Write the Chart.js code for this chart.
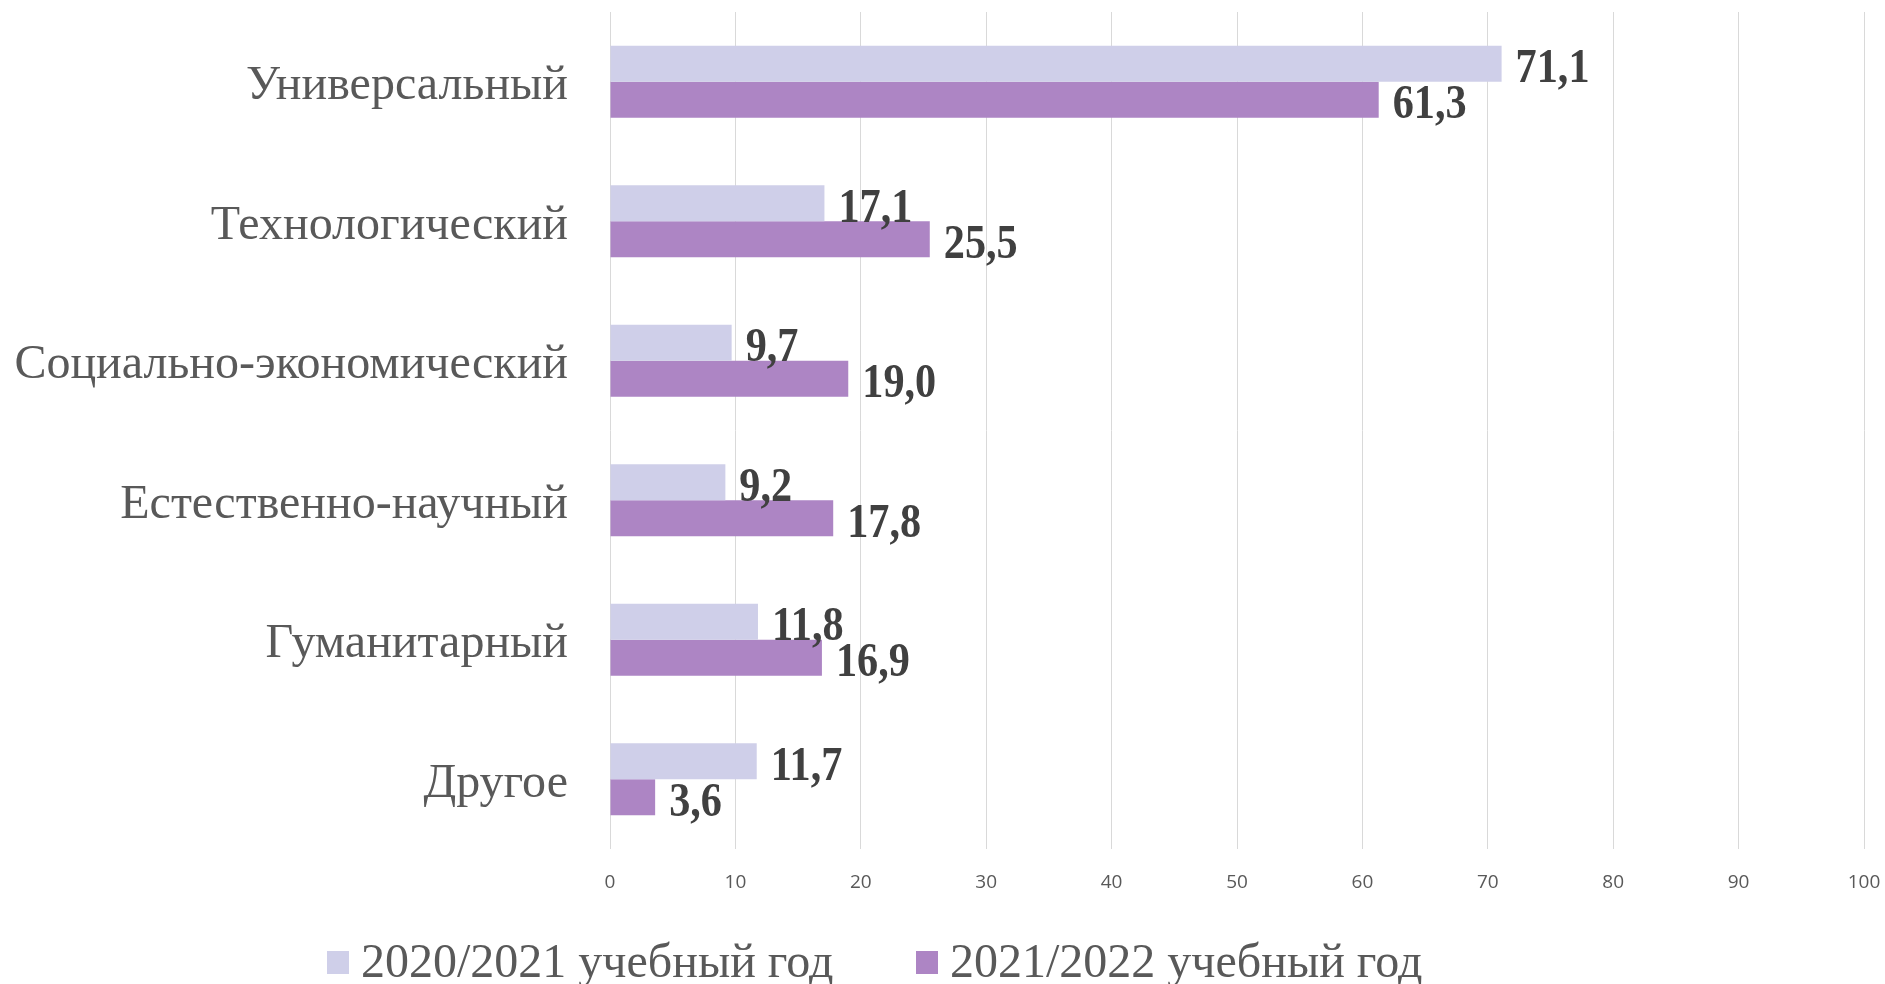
<!DOCTYPE html>
<html>
<head>
<meta charset="utf-8">
<script src="https://cdn.jsdelivr.net/npm/chart.js@4/dist/chart.umd.min.js"></script>
<style>
  html, body { margin: 0; padding: 0; background: #fff; }
  #wrap { width: 1885px; height: 984px; }
</style>
</head>
<body>
<div id="wrap"><canvas id="chart" width="1885" height="984"></canvas></div>
<script>
// Категории (профили обучения)
const categories = ['Универсальный', 'Технологический', 'Социально-экономический', 'Естественно-научный', 'Гуманитарный', 'Другое'];
// Серии по годам
const seriesNames = ['2020/2021 учебный год', '2021/2022 учебный год'];
const values2020 = [71.1, 17.1, 9.7, 9.2, 11.8, 11.7];
const values2021 = [61.3, 25.5, 19.0, 17.8, 16.9, 3.6];
const seriesColors = ['#CFCFE9', '#AD85C4'];
// Деления оси X
const xTicks = [0, 10, 20, 30, 40, 50, 60, 70, 80, 90, 100];

const serif = '"Liberation Serif", "Times New Roman", serif';

// Подписи значений справа от столбиков (чуть сжатые по ширине, как в оригинале)
const valueLabels = {
  id: 'valueLabels',
  afterDatasetsDraw(chart) {
    const ctx = chart.ctx;
    chart.data.datasets.forEach((ds, i) => {
      chart.getDatasetMeta(i).data.forEach((bar, j) => {
        const txt = ds.data[j].toFixed(1).replace('.', ',');
        ctx.save();
        ctx.translate(bar.x + 14, bar.y + 6);
        ctx.scale(0.88, 1);
        ctx.font = 'bold 48px ' + serif;
        ctx.fillStyle = '#404040';
        ctx.textBaseline = 'middle';
        ctx.textAlign = 'left';
        ctx.fillText(txt, 0, 0);
        ctx.restore();
      });
    });
  }
};

// Легенда снизу
const bottomLegend = {
  id: 'bottomLegend',
  afterDraw(chart) {
    const ctx = chart.ctx;
    const starts = [327, 916];
    ctx.save();
    ctx.font = '48px ' + serif;
    ctx.textBaseline = 'middle';
    chart.data.datasets.forEach((ds, i) => {
      ctx.fillStyle = ds.backgroundColor;
      ctx.fillRect(starts[i], 951, 22, 23);
      ctx.fillStyle = '#595959';
      ctx.fillText(ds.label, starts[i] + 34, 964);
    });
    ctx.restore();
  }
};

new Chart(document.getElementById('chart'), {
  type: 'bar',
  data: {
    labels: categories,
    datasets: [
      { label: seriesNames[0], data: values2020, backgroundColor: seriesColors[0] },
      { label: seriesNames[1], data: values2021, backgroundColor: seriesColors[1] }
    ]
  },
  options: {
    indexAxis: 'y',
    responsive: false,
    animation: false,
    layout: { padding: { top: 12, right: 21, bottom: 75, left: 0 } },
    datasets: { bar: { categoryPercentage: 0.516, barPercentage: 1 } },
    plugins: { legend: { display: false }, tooltip: { enabled: false } },
    scales: {
      x: {
        min: 0, max: 100,
        afterBuildTicks: (s) => { s.ticks = xTicks.map(v => ({ value: v })); },
        afterFit: (s) => { s.height = 60; s.paddingLeft = 0; s.paddingRight = 0; },
        grid: { color: '#D9D9D9', lineWidth: 1, drawTicks: false },
        border: { display: false },
        ticks: { padding: 22, color: '#595959', font: { family: '"Open Sans", sans-serif', size: 19 } }
      },
      y: {
        afterFit: (s) => { s.width = 610; s.paddingTop = 0; s.paddingBottom = 0; },
        grid: { display: false },
        border: { display: false },
        ticks: { padding: 34, labelOffset: 5, color: '#595959', font: { family: serif, size: 48 } }
      }
    }
  },
  plugins: [valueLabels, bottomLegend]
});
</script>
</body>
</html>
